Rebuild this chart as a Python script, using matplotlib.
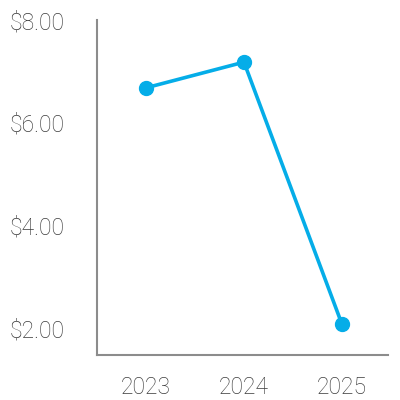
import matplotlib.pyplot as plt
from matplotlib.ticker import FuncFormatter

years = ["2023", "2024", "2025"]
prices = [6.68, 7.18, 2.08]

fig = plt.figure(figsize=(4, 4), dpi=100)
ax = fig.add_axes([0.2425, 0.1125, 0.7275, 0.8375])

ax.plot(range(len(years)), prices, color="#05ade8", linewidth=2.6,
        marker="o", markersize=10, solid_capstyle="round")

ax.set_xlim(-0.5, 2.47)
ax.set_ylim(1.48, 8.0)
ax.set_yticks([2, 4, 6, 8])
ax.yaxis.set_major_formatter(FuncFormatter(lambda v, _: f"${v:.2f}"))
ax.set_xticks(range(len(years)))
ax.set_xticklabels(years)

for side in ["top", "right"]:
    ax.spines[side].set_visible(False)
for side in ["left", "bottom"]:
    ax.spines[side].set_color("#8c8c8c")
    ax.spines[side].set_linewidth(1.5)

ax.tick_params(axis="both", length=0, labelsize=16.5, labelcolor="#3c3c3c")
ax.tick_params(axis="y", pad=23.5)
ax.tick_params(axis="x", pad=15)
for lbl in ax.get_xticklabels() + ax.get_yticklabels():
    lbl.set_family("Roboto")
    lbl.set_fontweight("light")

fig.savefig("out.png", dpi=100)
